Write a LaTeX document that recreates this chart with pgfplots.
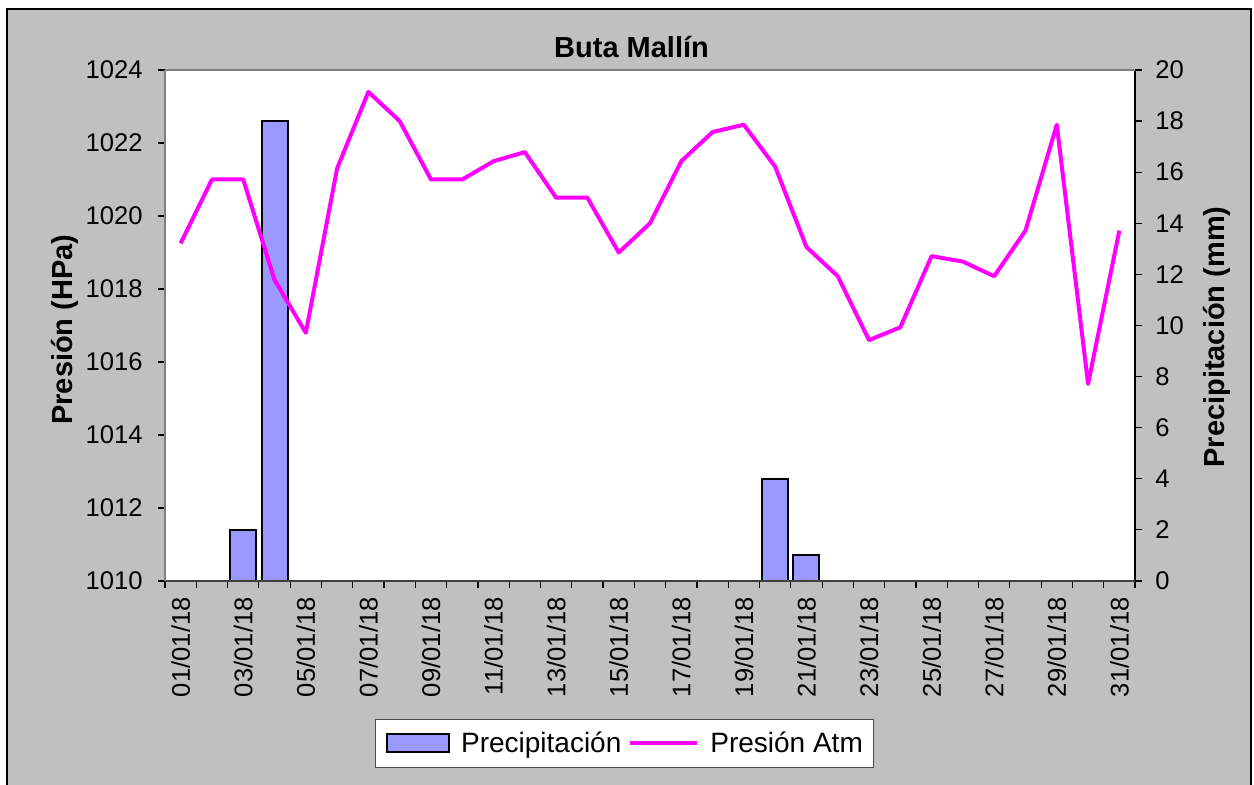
\documentclass[border=0pt]{standalone}
\usepackage{pgfplots}
\pgfplotsset{compat=1.18}
\usepackage{pgfplotstable}
\usepackage{fontspec}
\setmainfont{Liberation Sans}
\definecolor{bgray}{HTML}{C0C0C0}
\definecolor{barfill}{HTML}{9999FF}
\definecolor{magentaL}{HTML}{FF00FF}
\definecolor{axgray}{HTML}{808080}

\pgfplotstableread{
day pres
1 1019.25
2 1021.0
3 1021.0
4 1018.25
5 1016.8
6 1021.3
7 1023.4
8 1022.6
9 1021.0
10 1021.0
11 1021.5
12 1021.75
13 1020.5
14 1020.5
15 1019.0
16 1019.8
17 1021.5
18 1022.3
19 1022.5
20 1021.35
21 1019.15
22 1018.35
23 1016.6
24 1016.95
25 1018.9
26 1018.75
27 1018.35
28 1019.6
29 1022.5
30 1015.4
31 1019.6
}\prestable

\pgfplotstableread{
day prec
3 2
4 18
20 4
21 1
}\prectable

\begin{document}
\begin{tikzpicture}
\useasboundingbox (0,0) rectangle (627pt,392.5pt);
\fill[white] (0,0) rectangle (627pt,392.5pt);
\filldraw[fill=bgray, draw=black, line width=0.6pt] (3.5pt,-5pt) rectangle (625.5pt,388pt);

% Precipitation (right axis)
\begin{axis}[
  at={(82.5pt,102pt)}, anchor=south west,
  scale only axis, width=485pt, height=255.5pt,
  xmin=0.5, xmax=31.5,
  ymin=0, ymax=20, ytick={0,2,...,20},
  axis x line=none,
  axis y line*=right,
  axis line style={black, line width=0.75pt},
  y axis line style={-},
  axis background/.style={fill=white},
  tick align=outside,
  major tick length=3.5pt,
  tick style={black, line width=0.6pt},
  yticklabel style={font=\fontsize{12.8}{14}\selectfont, inner sep=0pt, xshift=6.5pt},
  /pgf/number format/assume math mode=true,
  clip=false,
]
\addplot[ybar, bar width=13pt, fill=barfill, draw=black, line width=1pt] table[x=day, y=prec] {\prectable};
\node[rotate=90, font=\bfseries\fontsize{14.5}{16}\selectfont] at (rel axis cs:1.0845,0.4775) {Precipitación (mm)};
\end{axis}

% Pressure (left axis)
\begin{axis}[
  at={(82.5pt,102pt)}, anchor=south west,
  scale only axis, width=485pt, height=255.5pt,
  xmin=0.5, xmax=31.5,
  ymin=1010, ymax=1024, ytick={1010,1012,...,1024},
  axis x line*=bottom,
  axis y line*=left,
  x axis line style={-, draw=black!75, line width=0.9pt},
  y axis line style={-, draw=axgray, line width=1pt},
  xtick={1,3,...,31},
  xticklabels={01/01/18,03/01/18,05/01/18,07/01/18,09/01/18,11/01/18,13/01/18,15/01/18,17/01/18,19/01/18,21/01/18,23/01/18,25/01/18,27/01/18,29/01/18,31/01/18},
  minor xtick={0.5,1.5,...,31.5},
  major x tick style={draw=none},
  minor x tick style={black, line width=0.6pt},
  y tick style={black, line width=0.6pt},
  tick align=outside,
  major tick length=3.5pt,
  minor tick length=3.5pt,
  xticklabel style={rotate=90, anchor=east, font=\fontsize{12.8}{14}\selectfont, inner sep=0pt, xshift=-4.5pt},
  yticklabel style={font=\fontsize{12.8}{14}\selectfont, inner sep=0pt, xshift=-7.5pt},
  /pgf/number format/assume math mode=true,
  /pgf/number format/1000 sep={},
  clip=false,
  legend style={at={(0.4737,-0.318)}, anchor=center, draw=black!70, line width=0.5pt, fill=white,
    legend columns=2, font=\fontsize{14}{16}\selectfont,
    inner xsep=5.5pt, inner ysep=6pt,
    nodes={inner sep=0pt},
    /tikz/every odd column/.append style={column sep=5.5pt},
    /tikz/every even column/.append style={column sep=3.5pt}},
  legend cell align=left,
]
\addlegendimage{legend image code/.code={\draw[fill=barfill, draw=black, line width=1pt] (0pt,-4.5pt) rectangle (31pt,4.5pt);}}
\addlegendentry{Precipitación}
\addplot[magentaL, line width=2pt, line join=round, mark=none,
  legend image code/.code={\draw[magentaL, line width=2pt] (0pt,0pt) -- (33.5pt,0pt);}]
  table[x=day, y=pres] {\prestable};
\addlegendentry{Presión Atm\hspace{3pt}}
\draw[axgray, line width=1pt] (rel axis cs:0,1) -- (rel axis cs:1,1);
\node[rotate=90, font=\bfseries\fontsize{14.5}{16}\selectfont] at (rel axis cs:-0.103,0.492) {Presión (HPa)};
\node[font=\bfseries\fontsize{14.5}{16}\selectfont] at (rel axis cs:0.481,1.0445) {Buta Mallín};
\end{axis}
\end{tikzpicture}
\end{document}
